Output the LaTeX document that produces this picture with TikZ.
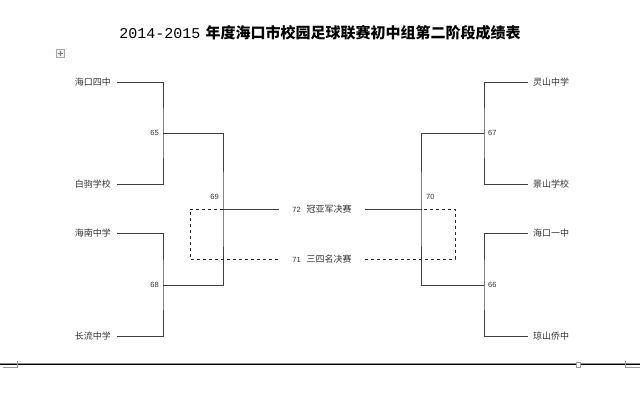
\documentclass[tikz,border=0pt]{standalone}
\usepackage{fontspec}
\setmainfont{Liberation Sans}
\newfontfamily\cjk{Noto Sans CJK SC}
\newfontfamily\monodig{Liberation Mono}
\begin{document}
\begin{tikzpicture}[x=1pt,y=-1pt,
  br/.style={draw=black!75,line width=0.9pt},
  dsh/.style={draw=black!85,line width=0.8pt,dash pattern=on 3pt off 3pt},
  teamL/.style={anchor=east,inner sep=0pt,font=\cjk\fontsize{9}{10}\selectfont,text=black!80},
  teamR/.style={anchor=west,inner sep=0pt,font=\cjk\fontsize{9}{10}\selectfont,text=black!80},
  num/.style={inner sep=0pt,font=\fontsize{7.5}{9}\selectfont,text=black!80},
  final/.style={inner xsep=13pt,inner ysep=0pt,font=\cjk\fontsize{9}{10}\selectfont,text=black!80},
  pagemark/.style={draw=black!40,line width=0.6pt}]
\useasboundingbox (0,0) rectangle (640,410);
\fill[white] (0,0) rectangle (640,410);
% title
\node (title) at (320,33) {\fontsize{15}{17}\selectfont\monodig 2014-2015\hspace{5pt}\cjk\bfseries 年度海口市校园足球联赛初中组第二阶段成绩表};
% table handle icon
\draw[draw=black!35,fill=blue!5,line width=0.5pt] (56,49) rectangle (64,57);
\draw[draw=blue!60,line width=0.6pt] (57.5,53) -- (62.5,53) (60,50.5) -- (60,55.5);
% junctions
\coordinate (m65) at (163,133);
\coordinate (m68) at (163,285);
\coordinate (j69) at (223,209);
\coordinate (m67) at (484,133);
\coordinate (m66) at (484,285);
\coordinate (j70) at (421,209);
\coordinate (c1) at (190,209);
\coordinate (c2) at (190,259);
\coordinate (c3) at (455,259);
\coordinate (c4) at (455,209);
% teams
\node[teamL] (t1) at (111,82) {海口四中};
\node[teamL] (t2) at (111,184) {白驹学校};
\node[teamL] (t3) at (111,233) {海南中学};
\node[teamL] (t4) at (111,336) {长流中学};
\node[teamR] (t5) at (533,82) {灵山中学};
\node[teamR] (t6) at (533,184) {景山学校};
\node[teamR] (t7) at (533,233) {海口一中};
\node[teamR] (t8) at (533,336) {琼山侨中};
% match numbers
\node[num,anchor=east] (n65) at (159,133) {65};
\node[num,anchor=east] (n68) at (159,285) {68};
\node[num,anchor=east] (n69) at (219,197) {69};
\node[num,anchor=west] (n70) at (426,197) {70};
\node[num,anchor=west] (n67) at (488,133) {67};
\node[num,anchor=west] (n66) at (488,285) {66};
% finals labels
\node[final] (f72) at (322,209) {{\fontsize{7.5}{9}\selectfont\rmfamily 72}\hspace{6pt}冠亚军决赛};
\node[final] (f71) at (322,259) {{\fontsize{7.5}{9}\selectfont\rmfamily 71}\hspace{6pt}三四名决赛};
% left bracket
\draw[br] ([xshift=6pt]t1.east) -| (m65) |- ([xshift=6pt]t2.east);
\draw[br] ([xshift=6pt]t3.east) -| (m68) |- ([xshift=6pt]t4.east);
\draw[br] (m65) -| (j69) |- (m68);
% right bracket
\draw[br] ([xshift=-5pt]t5.west) -| (m67) |- ([xshift=-5pt]t6.west);
\draw[br] ([xshift=-5pt]t7.west) -| (m66) |- ([xshift=-5pt]t8.west);
\draw[br] (m67) -| (j70) |- (m66);
% final
\draw[br] (j69) -- (f72.west);
\draw[br] (f72.east) -- (j70);
% third place (dashed)
\draw[dsh] (j69) -- (c1) -- (c2) -- (f71.west);
\draw[dsh] (f71.east) -- (c3) -- (c4) -- (j70);
% bottom page line
\draw[draw=black!45,line width=0.6pt] (0,362.8) -- (640,362.8);
\draw[draw=black,line width=1.3pt] (0,364.5) -- (640,364.5);
\draw[pagemark] (3,367) -- (17,367) -- (17,361);
\draw[pagemark,fill=white] (576,362) rectangle (580,367);
\draw[pagemark] (640,367) -- (625,367) -- (625,361);
\end{tikzpicture}
\end{document}
